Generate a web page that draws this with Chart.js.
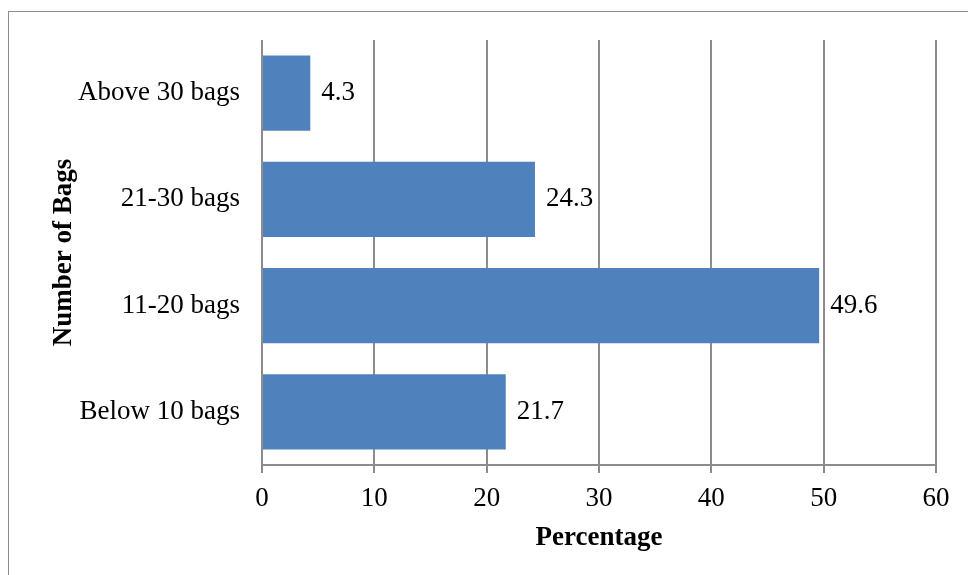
<!DOCTYPE html>
<html>
<head>
<meta charset="utf-8">
<script src="https://cdn.jsdelivr.net/npm/chart.js@4.4.1/dist/chart.umd.min.js"></script>
<style>
  html, body { margin: 0; padding: 0; background: #fff; }
  #wrap { position: relative; width: 968px; height: 575px; overflow: hidden; }
  #frame { position: absolute; left: 8px; top: 11px; width: 1000px; height: 600px;
           border: 1.5px solid #8c8c8c; box-sizing: border-box; pointer-events: none; }
  canvas { position: absolute; left: 0; top: 0; }
</style>
</head>
<body>
<div id="wrap">
  <canvas id="c" width="968" height="575"></canvas>
  <div id="frame"></div>
</div>
<script>
// Share of respondents by number of bags
const categories = ['Above 30 bags', '21-30 bags', '11-20 bags', 'Below 10 bags'];
const percentages = [4.3, 24.3, 49.6, 21.7];
const xTicks = [0, 10, 20, 30, 40, 50, 60];

const FONT = '"Liberation Serif", "Times New Roman", serif';
const FONT_SIZE = 27;

// Value labels written just past the end of each bar
const barValueLabels = {
  id: 'barValueLabels',
  afterDatasetsDraw(chart) {
    const ctx = chart.ctx;
    const meta = chart.getDatasetMeta(0);
    ctx.save();
    ctx.font = FONT_SIZE + 'px ' + FONT;
    ctx.fillStyle = '#000';
    ctx.textAlign = 'left';
    ctx.textBaseline = 'middle';
    meta.data.forEach((bar, i) => {
      ctx.fillText(String(percentages[i]), bar.x + 11, bar.y);
    });
    ctx.restore();
  }
};

new Chart(document.getElementById('c'), {
  type: 'bar',
  data: {
    labels: categories,
    datasets: [{
      data: percentages,
      backgroundColor: '#4F81BD',
      borderWidth: 0,
      categoryPercentage: 0.71,
      barPercentage: 1.0
    }]
  },
  options: {
    indexAxis: 'y',
    responsive: false,
    animation: false,
    layout: { padding: { left: 48, top: 40, right: 32, bottom: 17 } },
    plugins: { legend: { display: false }, tooltip: { enabled: false } },
    scales: {
      x: {
        min: 0, max: 60,
        afterBuildTicks(scale) { scale.ticks = xTicks.map(v => ({ value: v })); },
        afterFit(scale) { scale.height = 575 - 465 - 17; },
        grid: { color: '#8c8c8c', lineWidth: 2, tickLength: 8, drawTicks: true },
        border: { color: '#8c8c8c', width: 2 },
        ticks: { color: '#000', font: { family: FONT, size: FONT_SIZE }, padding: 10, maxRotation: 0 },
        title: { display: true, text: 'Percentage', color: '#000',
                 font: { family: FONT, size: FONT_SIZE, weight: 'bold' }, padding: { top: 10 } }
      },
      y: {
        afterFit(scale) { scale.width = 262 - 48; },
        grid: { display: false },
        border: { display: false },
        ticks: { color: '#000', font: { family: FONT, size: FONT_SIZE }, padding: 14 },
        title: { display: true, text: 'Number of Bags', color: '#000',
                 font: { family: FONT, size: FONT_SIZE, weight: 'bold' }, padding: 0 }
      }
    }
  },
  plugins: [barValueLabels]
});
</script>
</body>
</html>
